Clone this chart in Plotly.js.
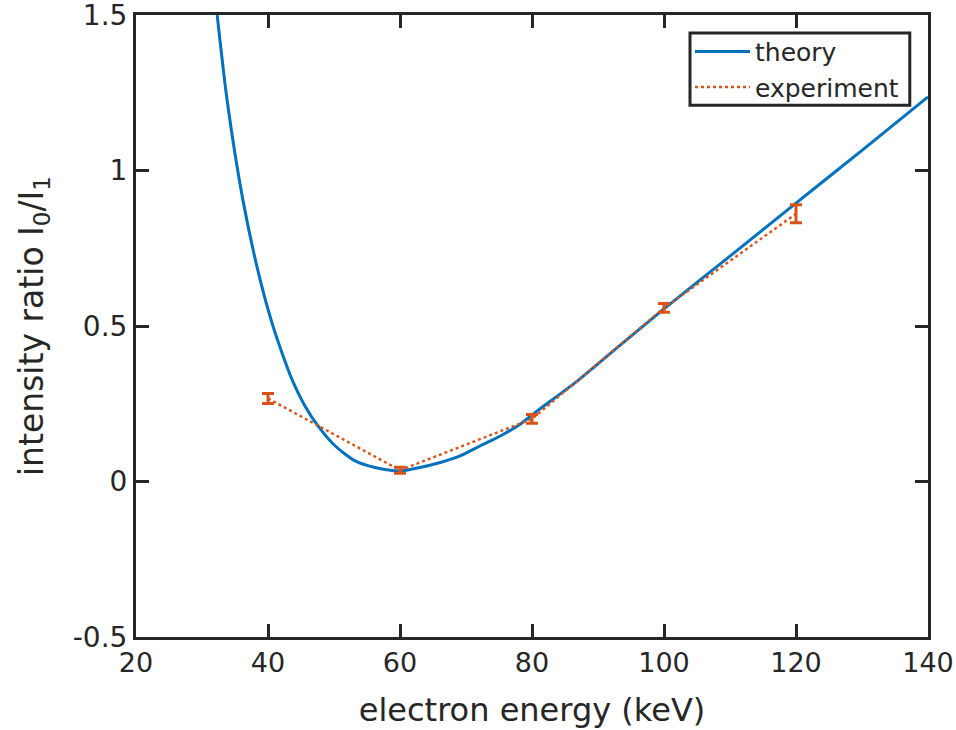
<!DOCTYPE html>
<html>
<head>
<meta charset="utf-8">
<script src="https://cdn.plot.ly/plotly-3.0.1.min.js"></script>
<style>html,body{margin:0;padding:0;background:#fff;}#chart{width:956px;height:730px;}</style>
</head>
<body>
<div id="chart"></div>
<script>
// Theory curve (keV, ratio)
const theoryEnergy = [32.3, 33.8, 36.2, 38.8, 40.6, 42.1, 43.6, 45.6, 47.6, 50.2, 53.2, 56.2, 60, 63, 66.1, 69.1, 72.1, 75.2, 78.2, 80.8, 86.8, 93, 100, 110, 120, 130, 140];
const theoryRatio  = [1.5, 1.227, 0.905, 0.649, 0.51, 0.415, 0.33, 0.243, 0.178, 0.114, 0.066, 0.045, 0.034, 0.045, 0.061, 0.082, 0.114, 0.146, 0.184, 0.227, 0.322, 0.432, 0.555, 0.725, 0.895, 1.065, 1.237];

// Experiment
const expEnergy = [40, 60, 80, 100, 120];
const expRatio  = [0.267, 0.036, 0.201, 0.558, 0.861];
const expError  = [0.016, 0.010, 0.014, 0.014, 0.029];

const xTicks = [20, 40, 60, 80, 100, 120, 140];
const yTicks = [-0.5, 0, 0.5, 1, 1.5];
const yTickText = ['-0.5', '0', '0.5', '1', '1.5'];

const axisColor = '#262626';
const fontFam = 'DejaVu Sans, Verdana, sans-serif';

const traces = [
  {
    x: theoryEnergy, y: theoryRatio, type: 'scatter', mode: 'lines', name: 'theory',
    line: {color: '#0072BD', width: 3, shape: 'spline', smoothing: 0.7}
  },
  {
    x: expEnergy, y: expRatio, type: 'scatter', mode: 'lines', name: 'experiment',
    line: {color: '#D95319', width: 2.4, dash: 'dot'},
    error_y: {type: 'data', array: expError, visible: true, color: '#D95319', thickness: 3, width: 6}
  }
];

const axisCommon = {
  showgrid: false, zeroline: false, showline: true, mirror: 'ticks',
  linecolor: axisColor, linewidth: 3, ticks: 'inside', ticklen: 13, tickwidth: 3,
  tickcolor: axisColor, tickfont: {family: fontFam, size: 27, color: axisColor},
  ticklabeloverflow: 'allow'
};

const layout = {
  width: 956, height: 730,
  margin: {l: 136, r: 28, t: 15, b: 93},
  paper_bgcolor: '#fff', plot_bgcolor: '#fff',
  showlegend: true,
  xaxis: Object.assign({}, axisCommon, {
    range: [20, 140], tickmode: 'array', tickvals: xTicks,
    title: {text: 'electron energy (keV)', font: {family: fontFam, size: 32, color: axisColor}, standoff: 22}
  }),
  yaxis: Object.assign({}, axisCommon, {
    range: [-0.5004, 1.5004], tickmode: 'array', tickvals: yTicks, ticktext: yTickText,
    tickfont: {family: fontFam, size: 28, color: axisColor},
    title: {text: 'intensity ratio I<sub>0</sub>/I<sub>1</sub>', font: {family: fontFam, size: 33, color: axisColor}, standoff: 20}
  }),
  shapes: [
    {type: 'rect', xref: 'paper', yref: 'paper', x0: 0.6995, x1: 0.977, y0: 0.855, y1: 0.971,
     line: {color: axisColor, width: 3}, fillcolor: '#fff', layer: 'above'}
  ],
  legend: {
    x: 0.6995, y: 0.978, xanchor: 'left', yanchor: 'top',
    bgcolor: 'rgba(0,0,0,0)', borderwidth: 0,
    font: {family: fontFam, size: 25, color: axisColor},
    itemwidth: 55, tracegroupgap: 0
  }
};

Plotly.newPlot('chart', traces, layout, {staticPlot: true, displayModeBar: false});
</script>
</body>
</html>
